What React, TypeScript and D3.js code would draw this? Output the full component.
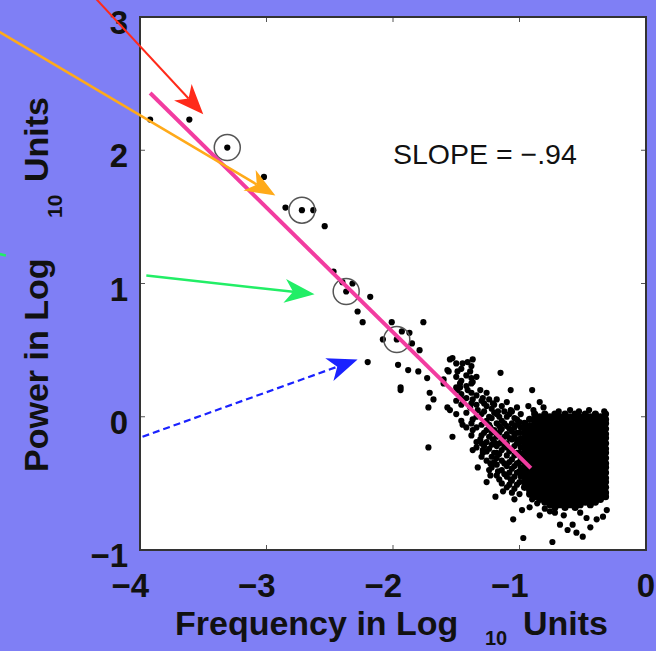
import React from "react";
import * as d3 from "d3";

// ---- data (log10 units) ----
const xTicks = [-4, -3, -2, -1, 0];
const yTicks = [-1, 0, 1, 2, 3];
const xDomain: [number, number] = [-4, 0];
const yDomain: [number, number] = [-1, 3];

const sparsePoints: [number, number][] = [
  [-3.92, 2.23], [-3.61, 2.23], [-3.31, 2.02], [-3.02, 1.8], [-2.85, 1.57], [-2.72, 1.55], [-2.63, 1.55],
  [-2.54, 1.43], [-2.47, 1.09], [-2.37, 0.94], [-2.32, 1.0], [-2.4, 1.01], [-2.18, 0.9], [-2.28, 0.79],
  [-2.24, 0.71], [-2.08, 0.58], [-2.01, 0.71], [-1.93, 0.64], [-1.87, 0.63], [-1.76, 0.71], [-1.79, 0.5],
  [-1.85, 0.55], [-1.97, 0.58], [-2.2, 0.41], [-1.96, 0.39], [-1.88, 0.35], [-1.8, 0.34], [-1.73, 0.29],
  [-1.94, 0.2], [-1.55, 0.43], [-1.41, 0.41], [-1.56, 0.34], [-1.49, 0.34], [-1.39, 0.34], [-1.6, 0.28],
  [-1.47, 0.25], [-1.37, 0.26], [-1.71, 0.18], [-1.68, 0.13], [-1.72, 0.07], [-1.57, 0.07], [-1.49, 0.2],
  [-1.41, 0.2], [-1.45, 0.13], [-1.37, 0.13], [-1.33, 0.05], [-1.53, 0.44], [-1.45, 0.4], [-1.37, 0.43],
  [-1.57, 0.35], [-1.15, 0.33], [-1.07, 0.2], [-0.9, 0.2], [-0.84, 0.11], [-1.6, 0.25], [-1.47, 0.22],
  [-1.38, 0.25], [-1.31, 0.2], [-1.29, 0.14], [-1.55, 0.05], [-1.39, 0.07], [-1.21, 0.1], [-1.17, 0.04],
  [-1.07, 0.05], [-1.02, -0.02], [-1.53, -0.15], [-1.45, -0.06], [-1.37, -0.02], [-1.37, -0.1], [-1.31, -0.17],
  [-1.23, -0.08], [-1.21, -0.17], [-1.15, -0.1], [-1.1, -0.23], [-1.02, -0.17], [-0.94, -0.08], [-0.76, -0.05],
  [-1.29, -0.25], [-1.34, -0.23], [-1.18, -0.27], [-0.97, -0.3], [-1.33, -0.38], [-1.26, -0.49], [-1.19, -0.6],
  [-1.13, -0.56], [-1.07, -0.47], [-1.04, -0.62], [-0.98, -0.7], [-1.05, -0.77], [-0.97, -0.91], [-0.74, -0.94],
  [-0.86, -0.65], [-0.84, -0.74], [-0.76, -0.71], [-0.68, -0.81], [-0.62, -0.85], [-0.55, -0.87], [-0.5, -0.9],
  [-0.58, -0.81], [-0.44, -0.83], [-0.39, -0.77], [-0.34, -0.75], [-0.31, -0.7], [-1.23, -0.35], [-1.37, -0.25],
  [-1.29, -0.27], [-1.17, -0.41], [-1.23, -0.44], [-1.72, -0.23], [-1.94, 0.22], [-0.89, 0.05], [-0.69, 0.04],
  [-0.53, 0.04], [-0.33, 0.04], [-0.45, 0.05], [-0.93, 0.08], [-0.81, 0.07], [-0.6, 0.05], [-0.72, -0.72],
  [-0.65, -0.74], [-0.52, -0.72], [-0.47, -0.76], [-0.9, -0.62], [-0.92, -0.68], [-0.8, -0.69],
];

const bandColumns: [number, number[]][] = [
  [-1.5, [0.4, 0.3, 0.22, 0.12, 0.02]],
  [-1.46, [0.36, 0.27, 0.17, 0.09, -0.03]],
  [-1.42, [0.31, 0.23, 0.14, 0.03, -0.08]],
  [-1.38, [0.38, 0.29, 0.18, 0.1, -0.05, -0.14]],
  [-1.34, [0.3, 0.16, 0.09, 0.0, -0.08, -0.19]],
  [-1.3, [0.12, 0.02, -0.06, -0.14, -0.2, -0.3]],
  [-1.28, [0.1, 0.04, -0.04, -0.12, -0.22]],
  [-1.26, [0.18, 0.08, -0.03, -0.1, -0.19, -0.26, -0.33]],
  [-1.24, [0.13, 0.0, -0.06, -0.15, -0.24, -0.4]],
  [-1.22, [0.06, -0.01, -0.12, -0.21, -0.3, -0.38]],
  [-1.2, [0.09, 0.03, -0.1, -0.19, -0.27, -0.34]],
  [-1.18, [0.13, 0.02, -0.05, -0.15, -0.22, -0.31, -0.36, -0.44]],
  [-1.16, [0.0, -0.07, -0.12, -0.2, -0.28, -0.47]],
  [-1.14, [0.08, -0.03, -0.09, -0.18, -0.25, -0.33, -0.4, -0.5]],
  [-1.12, [0.04, -0.05, -0.15, -0.22, -0.35, -0.43]],
  [-1.1, [0.11, 0.0, -0.07, -0.13, -0.2, -0.29, -0.37, -0.45, -0.53]],
  [-1.08, [0.02, -0.09, -0.16, -0.26, -0.34, -0.42, -0.51]],
  [-1.06, [0.04, -0.05, -0.11, -0.17, -0.24, -0.32, -0.39, -0.48, -0.57]],
  [-1.04, [-0.01, -0.08, -0.14, -0.22, -0.29, -0.37, -0.45, -0.54]],
  [-1.02, [0.07, -0.06, -0.12, -0.2, -0.27, -0.35, -0.42, -0.51]],
  [-1.0, [-0.04, -0.12, -0.19, -0.27, -0.34, -0.41, -0.49, -0.58]],
  [-0.99, [0.02, -0.08, -0.16, -0.23, -0.31, -0.38, -0.45]],
];

const coreColumns: [number, number[]][] = [
  [-0.96, [-0.05, -0.09, -0.12, -0.16, -0.2, -0.23, -0.27, -0.31, -0.34, -0.38, -0.42, -0.45, -0.49, -0.53]],
  [-0.92, [-0.02, -0.07, -0.11, -0.14, -0.18, -0.22, -0.25, -0.29, -0.33, -0.36, -0.4, -0.44, -0.47, -0.51, -0.55, -0.58]],
  [-0.88, [0.02, -0.02, -0.05, -0.09, -0.13, -0.16, -0.2, -0.24, -0.27, -0.31, -0.35, -0.38, -0.42, -0.46, -0.49, -0.53, -0.57, -0.6]],
  [-0.84, [0.0, -0.04, -0.07, -0.11, -0.15, -0.18, -0.22, -0.26, -0.29, -0.33, -0.37, -0.4, -0.44, -0.48, -0.51, -0.55, -0.59, -0.62]],
  [-0.8, [0.02, -0.02, -0.05, -0.09, -0.13, -0.16, -0.2, -0.24, -0.27, -0.31, -0.35, -0.38, -0.42, -0.46, -0.49, -0.53, -0.57, -0.6, -0.64]],
  [-0.76, [0.0, -0.04, -0.07, -0.11, -0.15, -0.18, -0.22, -0.26, -0.29, -0.33, -0.37, -0.4, -0.44, -0.48, -0.51, -0.55, -0.59, -0.62, -0.66]],
  [-0.72, [0.02, -0.02, -0.05, -0.09, -0.13, -0.16, -0.2, -0.24, -0.27, -0.31, -0.35, -0.38, -0.42, -0.46, -0.49, -0.53, -0.57, -0.6, -0.64, -0.68]],
  [-0.68, [0.0, -0.04, -0.07, -0.11, -0.15, -0.18, -0.22, -0.26, -0.29, -0.33, -0.37, -0.4, -0.44, -0.48, -0.51, -0.55, -0.59, -0.62, -0.66]],
  [-0.64, [0.02, -0.02, -0.05, -0.09, -0.13, -0.16, -0.2, -0.24, -0.27, -0.31, -0.35, -0.38, -0.42, -0.46, -0.49, -0.53, -0.57, -0.6, -0.64, -0.68]],
  [-0.6, [0.0, -0.04, -0.07, -0.11, -0.15, -0.18, -0.22, -0.26, -0.29, -0.33, -0.37, -0.4, -0.44, -0.48, -0.51, -0.55, -0.59, -0.62, -0.66]],
  [-0.56, [0.02, -0.02, -0.05, -0.09, -0.13, -0.16, -0.2, -0.24, -0.27, -0.31, -0.35, -0.38, -0.42, -0.46, -0.49, -0.53, -0.57, -0.6, -0.64, -0.68]],
  [-0.52, [0.0, -0.04, -0.07, -0.11, -0.15, -0.18, -0.22, -0.26, -0.29, -0.33, -0.37, -0.4, -0.44, -0.48, -0.51, -0.55, -0.59, -0.62, -0.66]],
  [-0.48, [0.02, -0.02, -0.05, -0.09, -0.13, -0.16, -0.2, -0.24, -0.27, -0.31, -0.35, -0.38, -0.42, -0.46, -0.49, -0.53, -0.57, -0.6, -0.64]],
  [-0.44, [0.0, -0.04, -0.07, -0.11, -0.15, -0.18, -0.22, -0.26, -0.29, -0.33, -0.37, -0.4, -0.44, -0.48, -0.51, -0.55, -0.59, -0.62, -0.66]],
  [-0.4, [0.02, -0.02, -0.05, -0.09, -0.13, -0.16, -0.2, -0.24, -0.27, -0.31, -0.35, -0.38, -0.42, -0.46, -0.49, -0.53, -0.57, -0.6, -0.64]],
  [-0.36, [0.0, -0.04, -0.07, -0.11, -0.15, -0.18, -0.22, -0.26, -0.29, -0.33, -0.37, -0.4, -0.44, -0.48, -0.51, -0.55, -0.59, -0.62]],
  [-0.32, [0.02, -0.02, -0.05, -0.09, -0.13, -0.16, -0.2, -0.24, -0.27, -0.31, -0.35, -0.38, -0.42, -0.46, -0.49, -0.53, -0.57, -0.6]],
];

const circledPoints: [number, number][] = [[-3.31, 2.02], [-2.72, 1.55], [-2.37, 0.94], [-1.97, 0.58]];
const fitLine: [number, number][] = [[-3.92, 2.43], [-0.91, -0.385]];
const slopeLabel = "SLOPE = \u2212.94";
const slopeLabelAt: [number, number] = [-2.0, 1.9];

const arrowStarts: [number, number][] = [[-4.4, 3.19], [-5.15, 2.91], [-3.95, 1.06], [-3.98, -0.15]];
const arrowTips: [number, number][] = [[-3.5, 2.27], [-2.93, 1.66], [-2.62, 0.92], [-2.28, 0.43]];
const greenStub: [number, number][] = [[-5.15, 1.23], [-5.06, 1.21]];

// ---- layout / style ----
const W = 656;
const H = 651;
const PL = 140, PR = 646, PT = 17, PB = 550;
const BG = "#7f7ff5";
const arrowColors = ["#ff2a1a", "#ffaa1a", "#22ee66", "#1a22ff"];
const arrowWidths = [2, 2.5, 2.5, 2.2];
const arrowDash = [null, null, null, "7 4"];
const FONT = "'Liberation Sans', Arial, Helvetica, sans-serif";

export default function App() {
  const x = d3.scaleLinear().domain(xDomain).range([PL, PR]);
  const y = d3.scaleLinear().domain(yDomain).range([PB, PT]);

  const loosePoints: [number, number][] = [
    ...sparsePoints,
    ...bandColumns.flatMap(([cx, ys]) => ys.map((v) => [cx, v] as [number, number])),
  ];
  const densePoints: [number, number][] = coreColumns.flatMap(([cx, ys]) =>
    ys.map((v) => [cx, v] as [number, number])
  );

  const line = d3.line<[number, number]>().x((d) => x(d[0])).y((d) => y(d[1]));

  const arrows = arrowStarts.map((s, i) => {
    const t = arrowTips[i];
    const sx = x(s[0]), sy = y(s[1]), tx = x(t[0]), ty = y(t[1]);
    const dx = tx - sx, dy = ty - sy;
    const len = Math.hypot(dx, dy);
    const ux = dx / len, uy = dy / len;
    const nx = -uy, ny = ux;
    const L = 30, HW = 12;
    const bx = tx - L * ux, by = ty - L * uy;
    const mx = tx - 0.72 * L * ux, my = ty - 0.72 * L * uy;
    const head = `M${tx},${ty}L${bx + HW * nx},${by + HW * ny}L${mx},${my}L${bx - HW * nx},${by - HW * ny}Z`;
    return { sx, sy, mx, my, head, i };
  });

  return (
    <svg width={W} height={H} style={{ position: "fixed", left: 0, top: 0, display: "block" }} fontFamily={FONT}>
      <rect x={0} y={0} width={W} height={H} fill={BG} />
      <rect x={PL} y={PT} width={PR - PL} height={PB - PT} fill="#ffffff" />

      {/* ticks */}
      {xTicks.map((t) => (
        <g key={"xt" + t}>
          <line x1={x(t)} x2={x(t)} y1={PB} y2={PB - 5} stroke="#555" strokeWidth={1} />
          <line x1={x(t)} x2={x(t)} y1={PT} y2={PT + 5} stroke="#555" strokeWidth={1} />
          <text x={x(t) + 9} y={PB + 47} textAnchor="end" fontSize={33} fontWeight="bold" fill="#111">
            {t < 0 ? "\u2212" + Math.abs(t) : String(t)}
          </text>
        </g>
      ))}
      {yTicks.map((t) => (
        <g key={"yt" + t}>
          <line x1={PL} x2={PL + 5} y1={y(t)} y2={y(t)} stroke="#555" strokeWidth={1} />
          <line x1={PR} x2={PR - 5} y1={y(t)} y2={y(t)} stroke="#555" strokeWidth={1} />
          <text x={128} y={y(t) + 17} textAnchor="end" fontSize={33} fontWeight="bold" fill="#111">
            {t < 0 ? "\u2212" + Math.abs(t) : String(t)}
          </text>
        </g>
      ))}

      {/* scatter */}
      <g fill="#000">
        {loosePoints.map((p, i) => (
          <circle key={"l" + i} cx={x(p[0])} cy={y(p[1])} r={3.1} />
        ))}
        {densePoints.map((p, i) => (
          <circle key={"d" + i} cx={x(p[0])} cy={y(p[1])} r={3.6} />
        ))}
      </g>

      {/* circled points */}
      {circledPoints.map((p, i) => (
        <circle key={"c" + i} cx={x(p[0])} cy={y(p[1])} r={13} fill="none" stroke="#555" strokeWidth={1.5} />
      ))}

      {/* fit line */}
      <path d={line(fitLine) || ""} stroke="#f23ca0" strokeWidth={4} fill="none" />

      {/* frame */}
      <rect x={PL} y={PT} width={PR - PL} height={PB - PT} fill="none" stroke="#333" strokeWidth={2} />

      <text x={x(slopeLabelAt[0])} y={y(slopeLabelAt[1])} fontSize={28.5} fill="#111">
        {slopeLabel}
      </text>

      {/* axis labels */}
      <text y={635} fontSize={34} fontWeight="bold" fill="#111">
        <tspan x={175}>Frequency in Log</tspan>
        <tspan x={485} y={645} fontSize={20}>10</tspan>
        <tspan x={523} y={635}>Units</tspan>
      </text>
      <g transform="translate(48,472) rotate(-90)">
        <text y={0} fontSize={34} fontWeight="bold" fill="#111">
          <tspan x={0}>Power in Log</tspan>
          <tspan x={254} y={14} fontSize={21}>10</tspan>
          <tspan x={290} y={0}>Units</tspan>
        </text>
      </g>

      {/* arrows */}
      {arrows.map((a) => (
        <g key={"a" + a.i}>
          <line
            x1={a.sx}
            y1={a.sy}
            x2={a.mx}
            y2={a.my}
            stroke={arrowColors[a.i]}
            strokeWidth={arrowWidths[a.i]}
            strokeDasharray={arrowDash[a.i] || undefined}
          />
          <path d={a.head} fill={arrowColors[a.i]} />
        </g>
      ))}
      <path d={line(greenStub) || ""} stroke={arrowColors[2]} strokeWidth={2.5} fill="none" />
    </svg>
  );
}
